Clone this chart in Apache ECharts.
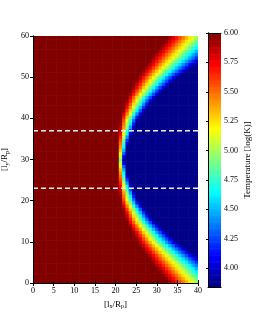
<!DOCTYPE html>
<html><head><meta charset="utf-8">
<script src="https://cdn.jsdelivr.net/npm/echarts@6/dist/echarts.min.js"></script>
<style>html,body{margin:0;padding:0;background:#fff}#c{width:266px;height:319px}</style>
</head><body><div id="c"></div>
<script>
// ---- data ----
const xTicks = [0, 5, 10, 15, 20, 25, 30, 35, 40];
const yTicks = [0, 10, 20, 30, 40, 50, 60];
const cbTicks = [4.00, 4.25, 4.50, 4.75, 5.00, 5.25, 5.50, 5.75, 6.00];
const dashedY = [23, 37];
// edges of the hot->cold transition layer, by distance |y - 30|
const dyKnots      = [0, 5, 10, 15, 20, 25, 30];
const redEndUp     = [20.4, 20.7, 21.2, 22.8, 25.5, 29.0, 33.0];
const blueStartUp  = [22.0, 23.3, 25.5, 29.5, 35.0, 42.0, 48.0];
const redEndLow    = [20.4, 20.7, 21.2, 22.8, 25.5, 29.0, 33.0];
const blueStartLow = [22.0, 23.3, 25.5, 29.5, 35.0, 42.0, 48.0];
const tHot = 6.0, tCold = 3.86;
const cbMin = 3.84, cbMax = 6.0;
const cell = 0.8, nX = 50, nY = 75;

function piece(knots, vals, d) {
  for (let k = 0; k < knots.length - 1; k++) {
    if (d <= knots[k + 1]) {
      const f = (d - knots[k]) / (knots[k + 1] - knots[k]);
      return vals[k] + f * (vals[k + 1] - vals[k]);
    }
  }
  return vals[vals.length - 1];
}
const cells = [];
for (let j = 0; j < nY; j++) {
  const yc = (j + 0.5) * cell;
  const up = yc >= 30;
  const d = Math.abs(yc - 30);
  const a = piece(dyKnots, up ? redEndUp : redEndLow, d);
  const b = piece(dyKnots, up ? blueStartUp : blueStartLow, d);
  for (let i = 0; i < nX; i++) {
    const xc = (i + 0.5) * cell;
    let v;
    if (xc <= a) v = tHot;
    else if (xc >= b) v = tCold;
    else v = tHot - (xc - a) / (b - a) * (tHot - tCold);
    cells.push([i * cell, j * cell, v]);
  }
}
const cbStep = 0.01;
const cbData = [];
for (let v = cbMin; v < cbMax - 1e-9; v += cbStep) cbData.push([0, v, v + cbStep / 2]);

function jet(t) {
  const c = x => Math.round(255 * Math.max(0, Math.min(1, x)));
  return 'rgb(' + c(1.5 - Math.abs(4 * t - 3)) + ',' + c(1.5 - Math.abs(4 * t - 2)) + ',' + c(1.5 - Math.abs(4 * t - 1)) + ')';
}
const jetColors = [];
for (let k = 0; k <= 64; k++) jetColors.push(jet(k / 64));

const FF = 'Liberation Serif';
const black = '#000';
const subRich = { s: { fontFamily: FF, fontSize: 6, color: black, padding: [5, 0, 0, 0] } };
const lineAxis = { show: true, lineStyle: { color: black, width: 1 } };

const chart = echarts.init(document.getElementById('c'), null, { renderer: 'canvas' });
chart.setOption({
  animation: false,
  backgroundColor: '#fff',
  grid: [
    { left: 33, top: 36, width: 165, height: 247, containLabel: false, outerBoundsMode: 'none' },
    { left: 208, top: 33, width: 13, height: 254, containLabel: false, outerBoundsMode: 'none' }
  ],
  visualMap: {
    type: 'continuous', show: false, min: cbMin, max: cbMax, dimension: 2,
    seriesIndex: [0, 1], inRange: { color: jetColors }
  },
  xAxis: [
    { gridIndex: 0, type: 'value', min: 0, max: 40, interval: 5, position: 'bottom', z: 10,
      axisLine: lineAxis, axisTick: { inside: true, length: 3, lineStyle: { color: black } },
      axisLabel: { fontFamily: FF, fontSize: 8, color: black, margin: 4 }, splitLine: { show: false },
      name: '[l{s|x}/R{s|p}]', nameLocation: 'middle', nameGap: 12,
      nameTextStyle: { fontFamily: FF, fontSize: 9, color: black, rich: subRich } },
    { gridIndex: 0, type: 'value', min: 0, max: 40, interval: 5, position: 'top', z: 10,
      axisLine: lineAxis, axisTick: { inside: true, length: 3, lineStyle: { color: black } },
      axisLabel: { show: false }, splitLine: { show: false } },
    { gridIndex: 1, type: 'value', min: 0, max: 1, position: 'bottom', z: 10,
      axisLine: lineAxis, axisTick: { show: false }, axisLabel: { show: false }, splitLine: { show: false } },
    { gridIndex: 1, type: 'value', min: 0, max: 1, position: 'top', z: 10,
      axisLine: lineAxis, axisTick: { show: false }, axisLabel: { show: false }, splitLine: { show: false } }
  ],
  yAxis: [
    { gridIndex: 0, type: 'value', min: 0, max: 60, interval: 10, position: 'left', z: 10,
      axisLine: lineAxis, axisTick: { inside: true, length: 3, lineStyle: { color: black } },
      axisLabel: { fontFamily: FF, fontSize: 8, color: black, margin: 4 }, splitLine: { show: false },
      name: '[l{s|y}/R{s|p}]', nameLocation: 'middle', nameGap: 12, nameRotate: 90,
      nameTextStyle: { fontFamily: FF, fontSize: 9, color: black, rich: subRich } },
    { gridIndex: 0, type: 'value', min: 0, max: 60, interval: 10, position: 'right', z: 10,
      axisLine: lineAxis, axisTick: { inside: true, length: 3, lineStyle: { color: black } },
      axisLabel: { show: false }, splitLine: { show: false } },
    { gridIndex: 1, type: 'value', min: cbMin, max: cbMax, position: 'right', z: 10,
      axisLine: lineAxis,
      axisTick: { inside: true, length: 2, customValues: cbTicks, lineStyle: { color: black } },
      axisLabel: { fontFamily: FF, fontSize: 8, color: black, margin: 3, customValues: cbTicks,
        formatter: v => Number(v).toFixed(2) },
      splitLine: { show: false },
      name: 'Temperature [log(K)]', nameLocation: 'middle', nameGap: 22, nameRotate: 90,
      nameTextStyle: { fontFamily: FF, fontSize: 9, color: black } },
    { gridIndex: 1, type: 'value', min: cbMin, max: cbMax, position: 'left', z: 10,
      axisLine: lineAxis, axisTick: { show: false }, axisLabel: { show: false }, splitLine: { show: false } }
  ],
  series: [
    { type: 'custom', xAxisIndex: 0, yAxisIndex: 0, data: cells, clip: true, progressive: 0,
      encode: { x: 0, y: 1 },
      renderItem: (params, api) => {
        const x0 = api.value(0), y0 = api.value(1);
        const p0 = api.coord([x0, y0 + cell]);
        const p1 = api.coord([x0 + cell, y0]);
        return { type: 'rect', shape: { x: p0[0], y: p0[1], width: p1[0] - p0[0] + 0.6, height: p1[1] - p0[1] + 0.6 },
          style: { fill: api.visual('color') } };
      } },
    { type: 'custom', xAxisIndex: 2, yAxisIndex: 2, data: cbData, clip: true, progressive: 0,
      encode: { x: 0, y: 1 },
      renderItem: (params, api) => {
        const v = api.value(1);
        const p0 = api.coord([0, v + cbStep]);
        const p1 = api.coord([1, v]);
        return { type: 'rect', shape: { x: p0[0], y: p0[1], width: p1[0] - p0[0], height: p1[1] - p0[1] + 0.6 },
          style: { fill: api.visual('color') } };
      } },
    ...dashedY.map(y => ({
      type: 'line', xAxisIndex: 0, yAxisIndex: 0, data: [[0, y], [40, y]], symbol: 'none', z: 5,
      lineStyle: { color: '#f0f0f0', width: 1.5, type: [5, 3] }, silent: true
    }))
  ]
});
</script></body></html>
